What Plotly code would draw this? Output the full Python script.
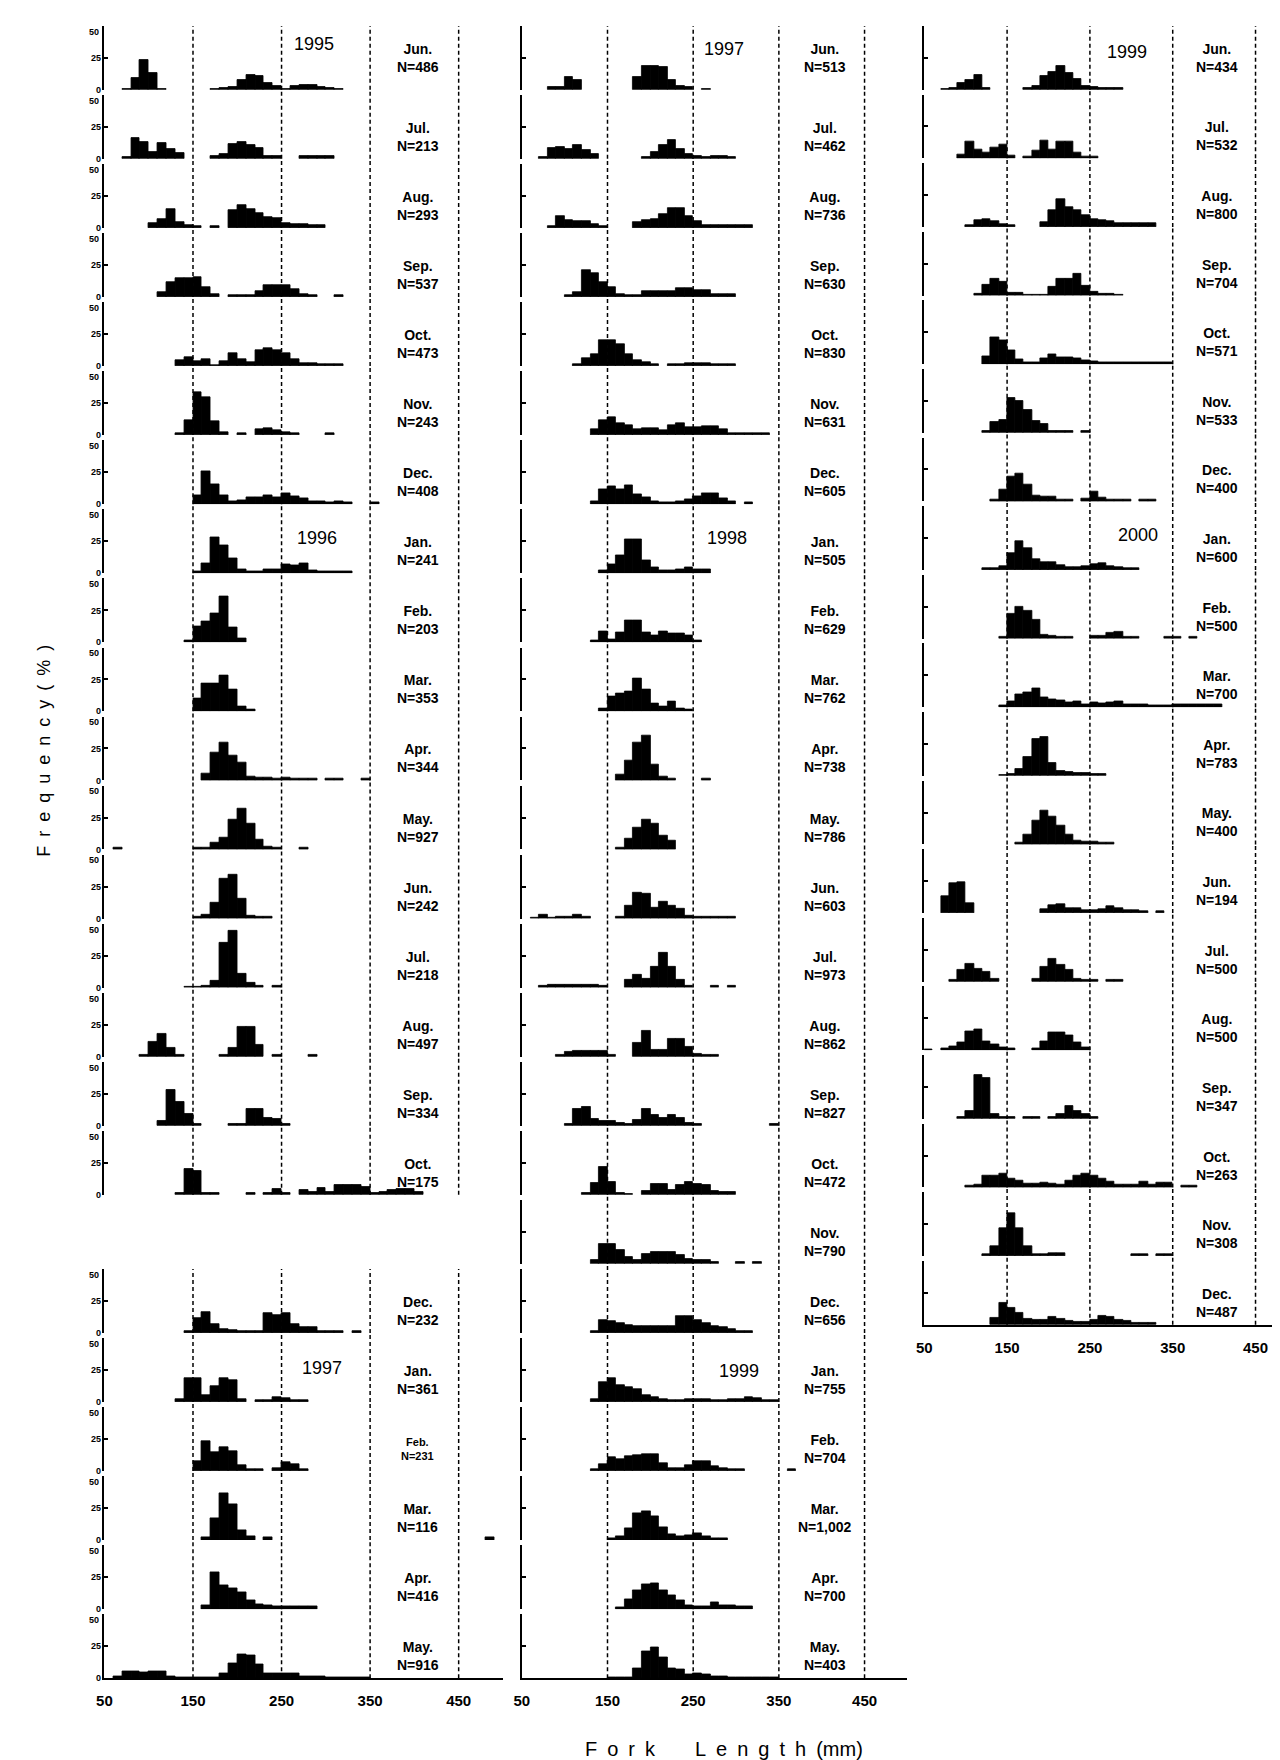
import plotly.graph_objects as go

# ------------------------------------------------------------------ data
# frequency (%) per 10-mm fork-length class; each histogram starts at *_start (mm)
c1_months = ["Jun.", "Jul.", "Aug.", "Sep.", "Oct.", "Nov.", "Dec.", "Jan.", "Feb.", "Mar.", "Apr.", "May.",
             "Jun.", "Jul.", "Aug.", "Sep.", "Oct.", None, "Dec.", "Jan.", "Feb.", "Mar.", "Apr.", "May."]
c1_n = ["486", "213", "293", "537", "473", "243", "408", "241", "203", "353", "344", "927",
        "242", "218", "497", "334", "175", None, "232", "361", "231", "116", "416", "916"]
c1_start = [70, 70, 100, 110, 130, 130, 150, 150, 140, 150, 160, 60,
            150, 140, 90, 110, 130, None, 140, 130, 150, 160, 160, 60]
c1_freq = [
    [1, 9, 23, 13, 1, 0, 0, 0, 0, 0, 1, 1.5, 2.5, 8, 12, 11, 5, 3, 1, 3, 4, 3.5, 2, 1.5, 1],
    [1.3, 16, 13, 5, 12.5, 8, 4.5, 0, 0, 0, 2, 4, 12, 13, 11, 8.5, 2.5, 2, 0, 0, 2, 2, 2.5, 2],
    [4, 7, 14.5, 4.5, 2, 1.3, 0, 1.5, 0, 14, 18, 14.5, 11.5, 8.5, 8, 3.7, 3, 3, 2, 2],
    [4, 11.3, 14.5, 14.5, 15.5, 8, 2, 0, 1.3, 1.3, 1.3, 4.5, 9, 9, 9.5, 6.5, 2.4, 1.6, 0, 0, 1.6],
    [4.4, 6.8, 3.5, 5, 1, 3.5, 10.3, 5, 3, 12.4, 13.8, 12.6, 9.7, 5.3, 2.4, 2, 1.2, 1.2, 1.2],
    [1.4, 12, 33.6, 29.6, 10.6, 2.6, 0, 1.5, 0, 4.9, 5.7, 3.7, 2, 1.5, 0, 0, 0, 1.5],
    [7.2, 26, 15.8, 7.2, 2.3, 2.9, 5.7, 5.7, 7.2, 5.7, 8.3, 6.3, 4.9, 2.6, 2, 1.4, 2.3, 1.4, 0, 0, 1.5],
    [1.5, 8, 28, 22, 11.8, 3.2, 1.7, 1.7, 2.9, 2.9, 7.2, 6.3, 8, 2.3, 1.7, 1.7, 1.7, 1.7],
    [1.5, 12.4, 16.7, 22.4, 36, 12, 2.9],
    [10.3, 21.5, 21.5, 28, 17, 3.8, 1.5],
    [5, 22, 30, 19.7, 14, 3, 2, 2, 1.5, 2.3, 1.5, 1.5, 1.5, 0, 1.5, 1.5, 0, 0, 1.5],
    [1.5, 0, 0, 0, 0, 0, 0, 0, 0, 1.5, 1.5, 5, 9.4, 23, 31.6, 20, 7.4, 2.6, 1.8, 0, 0, 1.5],
    [1.3, 3, 12.6, 31.5, 34.7, 15.6, 2, 1.5, 1.5],
    [1, 1, 1.5, 5.2, 35, 44.5, 11, 3.4, 1.3, 0, 1.3],
    [1.2, 11.4, 18, 7, 1.5, 0, 0, 0, 0, 1.5, 7, 23.5, 23.5, 9.3, 0, 1.3, 0, 0, 0, 1.5],
    [3.5, 28, 19, 9, 1.5, 0, 0, 0, 1.5, 1.5, 13.4, 13.4, 6.4, 5.2, 1.5],
    [1.5, 20.6, 18.5, 1.3, 1.3, 0, 0, 0, 1.5, 0, 1.5, 4.4, 1.5, 0, 3.5, 2.2, 5, 2.2, 8, 8, 8, 6.5, 1.8, 2.6, 3.8, 4.4, 4.4, 2],
    None,
    [1.5, 11.6, 16, 7.3, 2.9, 2.3, 1.5, 1.5, 1.5, 15.4, 14, 15.4, 6.7, 4.4, 4.4, 1.5, 1.5, 1.5, 0, 1.5],
    [2, 19, 18.5, 5.3, 12.4, 19, 17, 2, 0, 1.8, 1.8, 3.8, 2.9, 1.8, 1.8],
    [7.4, 23, 14.5, 19, 15.8, 4.7, 1.5, 1.5, 0, 2.6, 7, 5.3, 1.5],
    [2.5, 17.4, 36.7, 28, 7.7, 3.3, 0, 2] + [0] * 24 + [2.5],
    [3.3, 28.5, 18.5, 16.7, 13, 7.2, 4, 3.3, 2.5, 2, 2, 2.3, 2.3],
    [1.5, 5.4, 5.4, 4.6, 5.4, 5.4, 1.7, 1, 1, 1, 1, 1, 4, 11.5, 19, 18, 11, 4, 3.4, 3.4, 3.4, 1.7, 1.7, 1.7, 1, 1, 1, 1, 1],
]

c2_months = ["Jun.", "Jul.", "Aug.", "Sep.", "Oct.", "Nov.", "Dec.", "Jan.", "Feb.", "Mar.", "Apr.", "May.",
             "Jun.", "Jul.", "Aug.", "Sep.", "Oct.", "Nov.", "Dec.", "Jan.", "Feb.", "Mar.", "Apr.", "May."]
c2_n = ["513", "462", "736", "630", "830", "631", "605", "505", "629", "762", "738", "786",
        "603", "973", "862", "827", "472", "790", "656", "755", "704", "1,002", "700", "403"]
c2_start = [80, 70, 80, 100, 110, 130, 130, 140, 130, 140, 160, 160,
            60, 70, 90, 100, 120, 130, 130, 130, 130, 150, 160, 150]
c2_freq = [
    [2, 2, 10.2, 8, 0, 0, 0, 0, 0, 0, 9.7, 19, 19, 17.7, 8, 3, 2.4, 0, 1],
    [1.8, 8.4, 9.2, 7.9, 10.8, 7.1, 3.4, 0, 0, 0, 0, 0, 1.8, 5.3, 10.5, 14.5, 7.6, 4, 2.6, 1.3, 2.6, 2.6, 1.3],
    [1.5, 9, 5.8, 5.3, 5.3, 3.2, 1.3, 0, 0, 0, 4.5, 5.8, 7.2, 10.6, 15.4, 15.4, 9.3, 5, 1.9, 1.9, 1.9, 1.9, 1.9, 1.9],
    [1.5, 4, 21, 18.4, 11.8, 7.4, 2.6, 1.8, 1.8, 4.5, 4.5, 4.5, 4.5, 6.6, 6.6, 5, 5, 2.1, 2.1, 2.1],
    [1.5, 5.9, 9.4, 20, 20.6, 17, 9.4, 4.4, 3, 1.8, 0, 1.2, 1.2, 2.4, 2.4, 2.4, 1.2, 1.2, 1.2],
    [4.6, 11.7, 13.7, 9.4, 7.4, 4.6, 5.7, 5.7, 3.7, 8, 8.9, 6.3, 6, 6.6, 7, 4.6, 1.7, 1.7, 1.7, 1.7, 1.7],
    [2, 12, 14, 12, 14.4, 7.8, 5.5, 2, 1.4, 1.4, 2, 3.4, 6.3, 8.3, 8.3, 4.9, 2, 0, 1.5],
    [2, 6.6, 14.3, 26.6, 26.6, 10, 4.9, 2, 2, 2.9, 4.3, 2.9, 2.9],
    [1.5, 8.3, 2, 7.8, 17.2, 17.2, 7.8, 5.7, 8.3, 7.2, 7.2, 5.5, 1.5],
    [2.3, 11.6, 14, 15.4, 25.6, 17.4, 5.8, 3.8, 7.6, 2.3, 1.7],
    [4.9, 15.8, 30, 35, 12.4, 2.9, 1.3, 0, 0, 0, 1.3],
    [1.3, 8.5, 16.8, 23.5, 20.6, 10.9, 7],
    [1, 2.9, 1, 1.5, 1.5, 2.9, 1.2, 0, 0, 0, 1.5, 10, 20, 19.3, 8.6, 13.5, 10, 8, 2, 1.2, 1.2, 1.2, 1.2, 1.2],
    [1.3, 2.3, 2.3, 2.3, 2.3, 2.3, 2.3, 1.3, 0, 0, 5.8, 10, 6.7, 16.3, 27.6, 16.3, 5.8, 1.7, 0, 0, 1.5, 0, 1.5],
    [1.5, 3.5, 4.5, 4.5, 4.5, 4.5, 1.5, 0, 0, 10.8, 20.5, 5.7, 5.7, 13.6, 13.6, 8, 2.3, 1.5, 1.5],
    [1.5, 13, 14.4, 5.6, 4, 3.5, 2.6, 1.5, 4.4, 13, 8.5, 6.5, 8.5, 6.5, 2.6, 1.5, 0, 0, 0, 0, 0, 0, 0, 0, 1.5],
    [1.5, 9.4, 22, 10.3, 1.5, 1, 0, 3, 8.2, 8.2, 3.5, 7.4, 10.3, 8.2, 7.4, 3, 2, 2],
    [2.9, 15.8, 15.8, 11, 5.2, 2.9, 7.8, 9.5, 9.5, 9.5, 7.2, 3.5, 2.9, 2.9, 1.5, 0, 0, 1.5, 0, 1.5],
    [1.5, 10.3, 9.4, 8, 6.5, 5, 5, 5, 5, 5, 13, 13, 10, 7.4, 5, 4.4, 3, 1.2, 1.2],
    [2.3, 15.4, 19, 13, 12, 10, 5.2, 3.8, 2.3, 1.5, 1.5, 2.3, 2.3, 2.3, 1.5, 1.5, 2.3, 2.3, 3.8, 2.9, 1.7, 1.5],
    [1.3, 5.6, 11, 9.4, 11.6, 12.4, 13, 13, 6.2, 2.4, 2.4, 4.3, 7.5, 7.5, 4, 2.4, 1.3, 1.3, 0, 0, 0, 0, 0, 1.5],
    [1.3, 3.3, 9.2, 21, 22.4, 18.6, 9.7, 4.6, 3.3, 3.8, 5.1, 3.3, 1.5, 1.5],
    [1.5, 7.7, 14.8, 19.6, 20.4, 14.5, 10.7, 6.9, 3, 2.5, 2.5, 5.1, 3, 3, 2, 2],
    [0.5, 1, 1, 8, 21, 24.2, 16.7, 8, 6.7, 3, 3.5, 3, 1.7, 1.7, 1, 1, 1, 1, 1, 1],
]

c3_months = ["Jun.", "Jul.", "Aug.", "Sep.", "Oct.", "Nov.", "Dec.", "Jan.", "Feb.", "Mar.", "Apr.", "May.",
             "Jun.", "Jul.", "Aug.", "Sep.", "Oct.", "Nov.", "Dec."]
c3_n = ["434", "532", "800", "704", "571", "533", "400", "600", "500", "700", "783", "400",
        "194", "500", "500", "347", "263", "308", "487"]
c3_start = [70, 90, 100, 110, 120, 120, 130, 120, 140, 140, 140, 160,
            70, 80, 50, 90, 100, 120, 130]
c3_freq = [
    [1, 1.5, 5.4, 7.5, 11.6, 1.6, 0, 0, 0, 0, 1.3, 2.7, 10.8, 14, 18.3, 12.9, 8.6, 2.7, 2.2, 1.6, 1.3, 1.3],
    [3.2, 13, 6.6, 4.5, 8.4, 10.5, 2.6, 0, 1.8, 5.8, 14.2, 6.6, 12.9, 12.9, 4.5, 1.8, 1.3],
    [1.5, 5.2, 6, 4.6, 2.6, 1.3, 0, 0, 0, 3.9, 12.9, 22, 15.5, 13, 9.5, 6.4, 5.2, 4.4, 3.1, 3.1, 3.1, 3.1, 3.1],
    [1.3, 8.4, 13, 10.5, 2.6, 2.6, 1, 1, 1, 7, 13, 13, 17, 8, 3.2, 1.3, 1.8, 1],
    [6.3, 21, 19, 10.6, 3.5, 1.5, 1.5, 4.9, 7.8, 5.5, 5.5, 4.3, 2.9, 2.3, 1.4, 1.4, 1.4, 1.4, 1.4, 1.4, 1.4, 1.4, 1.4],
    [1.5, 8.3, 10, 27, 25, 17.8, 9.2, 6.9, 1.2, 1.2, 1.2, 0, 1.5],
    [1.5, 9.2, 19.8, 22, 13.5, 4.9, 4, 4, 1.5, 1.5, 0, 2, 7.8, 2.9, 1.5, 1.2, 1.2, 0, 1.2, 1.2],
    [1.3, 1.3, 2.9, 12.9, 22.3, 17, 8.6, 6.3, 6.3, 3.7, 2, 2, 2.9, 4.9, 5.1, 2.9, 2, 1.3, 1.3],
    [1.5, 19.7, 25, 21.5, 14.7, 2.9, 2, 1.5, 1.5, 0, 0, 2, 2, 4.4, 5.3, 1.5, 1.5, 0, 0, 0, 1.2, 1.2, 0, 1.2],
    [1.5, 4.3, 10, 11.5, 14.4, 7.8, 6.3, 5.2, 3.4, 4.9, 2, 3.7, 2.9, 3.4, 4.9, 2.6, 2.6, 2.6, 1.4, 1.4, 1.4, 2, 2, 2, 2, 2, 2],
    [1, 1.3, 5.5, 15, 28.7, 30.7, 10, 3.4, 2.9, 2, 2, 1.5, 1.5],
    [1.5, 7.4, 18.5, 26.4, 22, 15, 8, 2.8, 2.3, 2.3, 1.5, 1.5],
    [13, 23, 24.5, 7.4, 0, 0, 0, 0, 0, 0, 0, 0, 3.2, 6, 7, 3.9, 3.4, 2.6, 2, 3.2, 5, 3.4, 2, 2.4, 1.3, 0, 1.3],
    [1.2, 9.2, 14, 10, 7.9, 2, 0, 0, 0, 0, 2, 11.4, 18, 13.3, 9.2, 1.9, 1.1, 1.1, 0, 1.2, 1.2],
    [1, 0, 1.3, 3, 6.4, 14.5, 16, 6.9, 4.3, 2, 1.3, 0, 0, 1.8, 6.9, 14, 14, 11.5, 6.4, 2],
    [1.3, 5.8, 34.3, 31.6, 4.1, 1.6, 1.3, 0, 1.3, 1.3, 0, 1.3, 3.6, 9.9, 6.3, 3.6, 1.3],
    [1.3, 2.6, 9.2, 9.2, 10.5, 6.6, 5.3, 3.2, 3.2, 3.9, 3.2, 2.6, 5.3, 9.2, 11, 9.2, 6.6, 4.5, 2.6, 2.6, 2.6, 4.5, 2, 3.9, 3.7, 0, 1.3, 1.3],
    [1.3, 7.4, 21.8, 33.7, 21.8, 7.4, 1.3, 1.3, 2, 2, 0, 0, 0, 0, 0, 0, 0, 0, 1.3, 1.3, 0, 1.3, 1.3],
    [5.4, 17, 13, 9.2, 4.9, 4, 4, 6, 4.9, 3.3, 2.2, 2.2, 4, 6.8, 6.3, 4, 2.7, 1.4, 1.4, 1.4],
]

c1_year_slots, c1_year_text = [0, 7, 19], ["1995", "1996", "1997"]
c2_year_slots, c2_year_text = [0, 7, 19], ["1997", "1998", "1999"]
c3_year_slots, c3_year_text = [0, 7], ["1999", "2000"]

x_ticks = [50, 150, 250, 350, 450]
y_ticks = [0, 25, 50]
ref_lines = [150, 250, 350, 450]

# ------------------------------------------------------------------ layout
W, H = 1280, 1760
PH = 64.0                     # px height of the 0-50 % range
BIN = 10
FONT = "Liberation Sans Narrow, Arial Narrow, Liberation Sans, Arial, sans-serif"
FONT_R = "Liberation Sans, Arial, sans-serif"

cols = [
    dict(months=c1_months, n=c1_n, start=c1_start, freq=c1_freq, px0=89, px1=490,
         xr=[50, 500], top=82, pitch=69.26, labels=True,
         years=dict(zip(c1_year_slots, c1_year_text)),
         ypos={0: (287, 46), 7: (290, 35), 19: (296, 34)}),
    dict(months=c2_months, n=c2_n, start=c2_start, freq=c2_freq, px0=509, px1=897,
         xr=[50, 500], top=82, pitch=69.26, labels=False,
         years=dict(zip(c2_year_slots, c2_year_text)),
         ypos={0: (286, 41), 7: (289, 35), 19: (303, 31)}),
    dict(months=c3_months, n=c3_n, start=c3_start, freq=c3_freq, px0=914, px1=1280,
         xr=[50, 50 + 366 / 0.8333], top=82, pitch=68.8, labels=False,
         years=dict(zip(c3_year_slots, c3_year_text)),
         ypos={0: (295, 38), 7: (308, 35)}),
]

fig = go.Figure()
layout = {}
shapes = []
annotations = []
k = 0
for ci, col in enumerate(cols):
    nslots = len(col["months"])
    last = max(i for i in range(nslots) if col["freq"][i] is not None)
    for i in range(nslots):
        vals = col["freq"][i]
        if vals is None:
            continue
        k += 1
        xn = "x" if k == 1 else f"x{k}"
        yn = "y" if k == 1 else f"y{k}"
        yb = col["top"] + i * col["pitch"]
        ydom = [1 - yb / H, 1 - (yb - PH) / H]
        xdom = [col["px0"] / W, min(col["px1"] / W, 1.0)]
        bottom = (i == last)
        if bottom:
            layout["xaxis" + xn[1:]] = dict(
                domain=xdom, range=col["xr"], anchor=yn, showline=True, linecolor="black",
                linewidth=2, ticks="", tickvals=x_ticks, ticktext=[str(v) for v in x_ticks],
                tickfont=dict(family=FONT, size=15, color="black", weight="bold"),
                ticklabelstandoff=8, showgrid=False, zeroline=False, fixedrange=True)
        else:
            layout["xaxis" + xn[1:]] = dict(domain=xdom, range=col["xr"], anchor=yn,
                                            visible=False, fixedrange=True)
        # y tick labels: "0" and "25" on the axis; "50" set a little lower, as in the print
        layout["yaxis" + yn[1:]] = dict(
            domain=ydom, range=[0, 50], anchor=xn, showline=True, linecolor="black",
            linewidth=1.5, ticks="inside", ticklen=4, tickwidth=1.5, tickcolor="black",
            tickvals=y_ticks, ticktext=[str(v) if v < 50 else "" for v in y_ticks],
            showticklabels=col["labels"],
            tickfont=dict(family=FONT, size=9, color="black", weight="bold"),
            showgrid=False, zeroline=False, fixedrange=True)
        if col["labels"]:
            annotations.append(dict(
                xref=f"{xn} domain", yref=yn, x=0, y=45.5, xanchor="right", yanchor="middle",
                xshift=-3, showarrow=False, text=str(y_ticks[-1]),
                font=dict(family=FONT, size=9, color="black", weight="bold")))

        xs = [col["start"][i] + BIN * j + BIN / 2 for j, v in enumerate(vals) if v > 0]
        ys = [v for v in vals if v > 0]
        fig.add_trace(go.Bar(x=xs, y=ys, width=BIN, xaxis=xn, yaxis=yn, showlegend=False,
                             hoverinfo="skip",
                             marker=dict(color="black", line=dict(color="black", width=0.8))))

        first = (i == 0) or (col["freq"][i - 1] is None)
        ext = 1.0 if first else 1 + (col["pitch"] - PH) / PH
        for v in ref_lines:
            if v < col["xr"][1]:
                shapes.append(dict(type="line", xref=xn, yref=f"{yn} domain", x0=v, x1=v,
                                   y0=0, y1=ext, line=dict(color="black", width=1.5, dash="4px,3px")))

        dy = 32 if i == 0 else 22
        small = (ci == 0 and i == 20)
        annotations.append(dict(
            xref=xn, yref=yn, x=404, y=dy / PH * 50, showarrow=False,
            text=f"{col['months'][i]}<br>N={col['n'][i]}",
            font=dict(family=FONT, size=11 if small else 14, color="black", weight="bold"),
            align="center", xanchor="center", yanchor="middle"))

        if i in col["years"]:
            xm, ypx = col["ypos"][i]
            annotations.append(dict(
                xref=xn, yref=yn, x=xm, y=ypx / PH * 50, showarrow=False,
                text=col["years"][i], xanchor="center", yanchor="middle",
                font=dict(family=FONT_R, size=18, color="black")))

annotations.append(dict(
    xref="paper", yref="paper", x=28 / W, y=1 - 745 / H, showarrow=False, textangle=-90,
    text="F\u2002r\u2002e\u2002q\u2002u\u2002e\u2002n\u2002c\u2002y\u2002(\u2002%\u2002)",
    font=dict(family=FONT_R, size=18, color="black"), xanchor="center", yanchor="middle"))
annotations.append(dict(
    xref="paper", yref="paper", x=712 / W, y=1 - 1746 / H, showarrow=False,
    text="F\u2002o\u2002r\u2002k\u2003\u2003L\u2002e\u2002n\u2002g\u2002t\u2002h\u2002(mm)",
    font=dict(family=FONT_R, size=20, color="black"), xanchor="center", yanchor="middle"))

fig.update_layout(
    width=W, height=H, autosize=False, margin=dict(l=0, r=0, t=0, b=0),
    paper_bgcolor="white", plot_bgcolor="white", bargap=0, barmode="overlay",
    shapes=shapes, annotations=annotations, **layout)

fig.write_html("out.html")
